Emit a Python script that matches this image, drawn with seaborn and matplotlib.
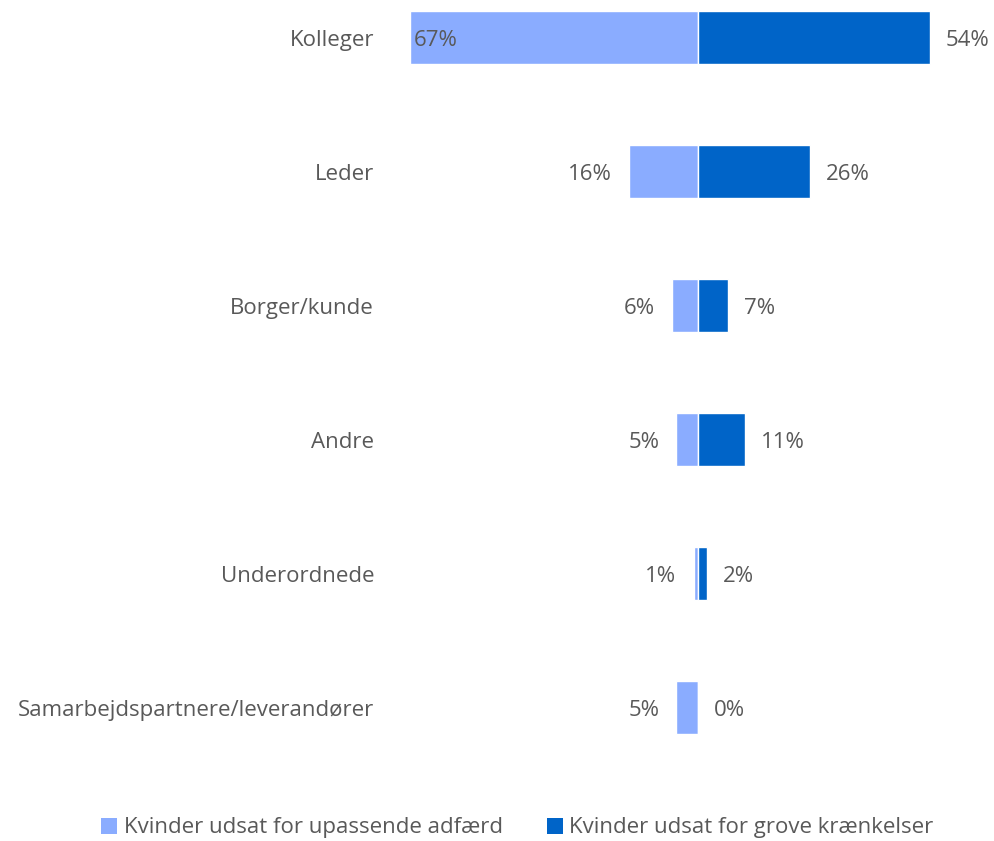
import matplotlib
matplotlib.use("Agg")
import matplotlib.pyplot as plt
import seaborn as sns
import pandas as pd
from matplotlib.patches import Patch

categories = ["Kolleger", "Leder", "Borger/kunde", "Andre", "Underordnede",
              "Samarbejdspartnere/leverandører"]
upassende = [67, 16, 6, 5, 1, 5]
grove = [54, 26, 7, 11, 2, 0]
series_names = ["Kvinder udsat for upassende adfærd", "Kvinder udsat for grove krænkelser"]
colors = ["#8AACFF", "#0064C8"]
text_color = "#595959"

sns.set_theme(style="white")
plt.rcParams["font.family"] = ["Open Sans", "DejaVu Sans"]

df = pd.DataFrame({
    "category": categories * 2,
    "value": [-v for v in upassende] + grove,
    "series": [series_names[0]] * len(categories) + [series_names[1]] * len(categories),
})

fig = plt.figure(figsize=(9.95, 8.41), dpi=100)
ax = fig.add_axes([388 / 995, 1 - 788 / 841, 1 - 388 / 995, 788 / 841])

sns.barplot(data=df, x="value", y="category", hue="series", order=categories,
            hue_order=series_names, palette=colors, saturation=1, dodge=False, width=0.4,
            edgecolor="white", linewidth=1, legend=False, ax=ax)

ax.set_xlim(-72.1, 69.1)
ax.set_ylim(5.6, -0.28)
ax.set_xlabel("")
ax.set_ylabel("")
ax.set_xticks([])
fs = 16
ax.tick_params(axis="y", length=0, pad=10, labelsize=fs, labelcolor=text_color)
for s in ax.spines.values():
    s.set_visible(False)

for i, (a, b) in enumerate(zip(upassende, grove)):
    if a > 50:
        ax.text(-a + 0.9, i, f"{a}%", ha="left", va="center_baseline", fontsize=fs, color=text_color)
    else:
        ax.text(-a - 4, i, f"{a}%", ha="right", va="center_baseline", fontsize=fs, color=text_color)
    ax.text(b + 3.7, i, f"{b}%", ha="left", va="center_baseline", fontsize=fs, color=text_color)

handles = [Patch(facecolor=c, edgecolor="none") for c in colors]
fig.legend(handles, series_names, loc="center", bbox_to_anchor=(0.52, 1 - 828 / 841),
           ncol=2, frameon=False, fontsize=fs, labelcolor=text_color,
           handlelength=0.7, handleheight=0.7, handletextpad=0.3, columnspacing=2.0)

fig.savefig("out.png", dpi=100)
